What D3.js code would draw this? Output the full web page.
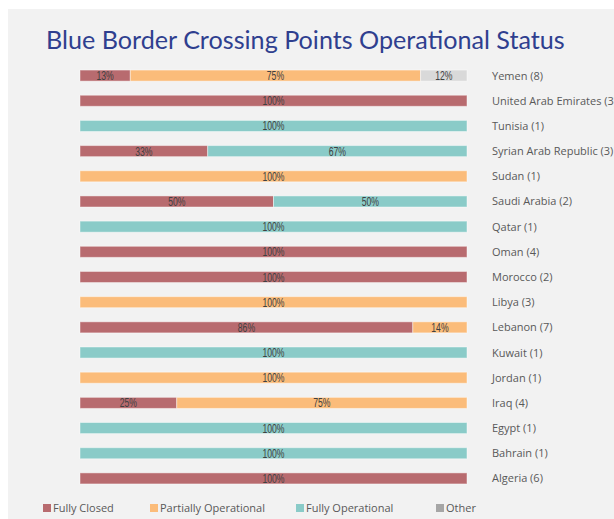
<!DOCTYPE html>
<html lang="en">
<head>
    <meta charset="UTF-8">
    <title>Blue Border Crossing Points Operational Status</title>
    <script src="https://d3js.org/d3.v7.min.js"></script>
    <style>
        body, html {
            margin: 0;
            background: #ffffff;
            overflow: hidden;
        }
        .country { font-family: "Open Sans", Lato, sans-serif; font-size: 11px; fill: #595959; }
        .pct { font-family: "Liberation Sans", Arial, sans-serif; font-size: 12px; fill: #404040; }
        .legend text { font-family: "Open Sans", Lato, sans-serif; font-size: 11px; fill: #595959; }
    </style>
</head>
<body>
<script>
    // Data, top row first
    const countries = ["Yemen (8)", "United Arab Emirates (3)", "Tunisia (1)", "Syrian Arab Republic (3)",
        "Sudan (1)", "Saudi Arabia (2)", "Qatar (1)", "Oman (4)", "Morocco (2)", "Libya (3)",
        "Lebanon (7)", "Kuwait (1)", "Jordan (1)", "Iraq (4)", "Egypt (1)", "Bahrain (1)", "Algeria (6)"];
    const fullyClosed          = [13, 100, 0, 33, 0, 50, 0, 100, 100, 0, 86, 0, 0, 25, 0, 0, 100];
    const partiallyOperational = [75, 0, 0, 0, 100, 0, 0, 0, 0, 100, 14, 0, 100, 75, 0, 0, 0];
    const fullyOperational     = [0, 0, 100, 67, 0, 50, 100, 0, 0, 0, 0, 100, 0, 0, 100, 100, 0];
    const other                = [12, 0, 0, 0, 0, 0, 0, 0, 0, 0, 0, 0, 0, 0, 0, 0, 0];
    const seriesNames = ["Fully Closed", "Partially Operational", "Fully Operational", "Other"];
    const barColors = ["#b86b6f", "#fbbc7a", "#8acbc8", "#d9d9d9"];
    const legendColors = ["#b86b6f", "#fbbc7a", "#8acbc8", "#a6a6a6"];

    const width = 614, height = 519;
    const svg = d3.select("body").append("svg")
        .attr("width", width).attr("height", height);

    // grey panel
    svg.append("rect").attr("x", 8).attr("y", 9)
        .attr("width", width - 8).attr("height", height - 9)
        .attr("fill", "#f2f2f2");

    // title, font size fitted to the reference width
    const title = svg.append("text")
        .attr("x", 46).attr("y", 49)
        .attr("font-family", "Lato, 'Open Sans', sans-serif")
        .attr("font-size", 27)
        .attr("fill", "#2f3f8f")
        .text("Blue Border Crossing Points Operational Status");
    const tw = title.node().getComputedTextLength();
    title.attr("font-size", Math.min(30, 27 * 519 / tw));

    const rows = countries.map((c, i) => ({
        country: c,
        "Fully Closed": fullyClosed[i],
        "Partially Operational": partiallyOperational[i],
        "Fully Operational": fullyOperational[i],
        "Other": other[i]
    }));

    const stacked = d3.stack().keys(seriesNames)(rows);

    const x = d3.scaleLinear().domain([0, 100]).range([80, 467]);
    const y = d3.scaleBand().domain(countries).range([63, 491]).paddingInner(0.56).paddingOuter(0.28);
    const color = d3.scaleOrdinal().domain(seriesNames).range(barColors);

    const layers = svg.append("g").selectAll("g")
        .data(stacked).join("g")
        .attr("fill", d => color(d.key));

    layers.selectAll("rect")
        .data(d => d.filter(s => s[1] - s[0] > 0))
        .join("rect")
        .attr("x", d => x(d[0]))
        .attr("y", d => y(d.data.country))
        .attr("width", d => x(d[1]) - x(d[0]))
        .attr("height", y.bandwidth())
        .attr("stroke", "#ffffff")
        .attr("stroke-opacity", 0.45)
        .attr("stroke-width", 1);

    // condensed looking labels: squeeze horizontally
    layers.selectAll("text")
        .data(d => d.filter(s => s[1] - s[0] > 0))
        .join("text")
        .attr("class", "pct")
        .attr("transform", d => `translate(${(x(d[0]) + x(d[1])) / 2},${y(d.data.country) + y.bandwidth() / 2 + 4.5}) scale(0.72,1)`)
        .attr("text-anchor", "middle")
        .text(d => (d[1] - d[0]) + "%");

    // country labels on the right
    svg.append("g").selectAll("text")
        .data(countries).join("text")
        .attr("class", "country")
        .attr("x", 492)
        .attr("y", d => y(d) + y.bandwidth() / 2 + 4)
        .text(d => d);

    // legend
    const legendX = [43, 150, 296, 436];
    const legend = svg.append("g").attr("class", "legend")
        .selectAll("g").data(seriesNames).join("g")
        .attr("transform", (d, i) => `translate(${legendX[i]},504)`);
    legend.append("rect").attr("width", 8).attr("height", 8)
        .attr("fill", (d, i) => legendColors[i]);
    legend.append("text").attr("x", 10).attr("y", 8).text(d => d);
</script>
</body>
</html>
